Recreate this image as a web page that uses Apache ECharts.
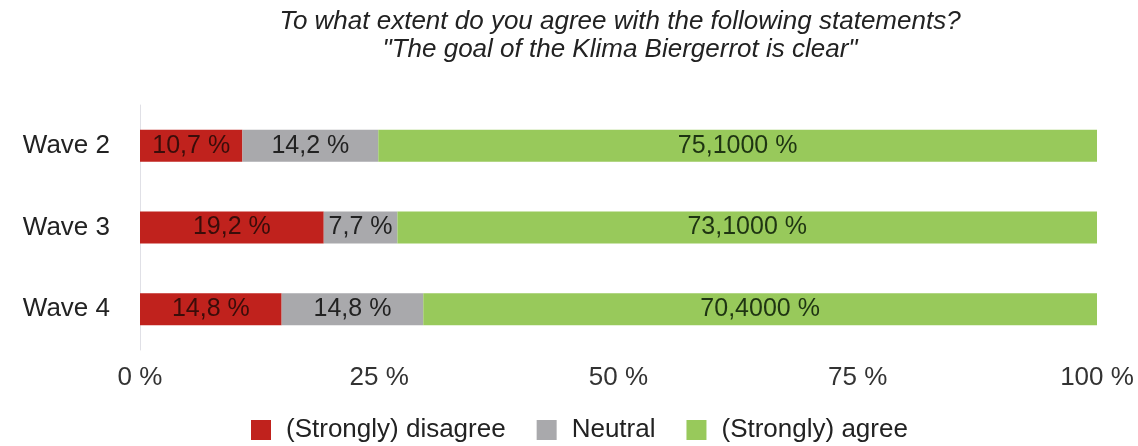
<!DOCTYPE html>
<html>
<head>
<meta charset="utf-8">
<script src="https://cdn.jsdelivr.net/npm/echarts@6/dist/echarts.min.js"></script>
<style>html,body{margin:0;padding:0;background:#fff;}#c{width:1138px;height:446px;}</style>
</head>
<body>
<div id="c"></div>
<script>
const categories = ["Wave 2", "Wave 3", "Wave 4"];
const seriesNames = ["(Strongly) disagree", "Neutral", "(Strongly) agree"];
const disagree = [10.7, 19.2, 14.8];
const neutral = [14.2, 7.7, 14.8];
const agree = [75.1, 73.1, 70.4];
const labelDecimals = [1, 1, 4];
const xTicks = [0, 25, 50, 75, 100];
const colors = ["#c0221d", "#a9a9ac", "#98c95b"];
const labelColors = ["#3a0d0a", "#222222", "#1e3412"];
const titleLines = ["To what extent do you agree with the following statements?", "\"The goal of the Klima Biergerrot is clear\""];

const font = "Liberation Sans, Arial, sans-serif";
function mk(name, data, i) {
  return {
    name: name, type: 'bar', stack: 'total', data: data, barWidth: 32,
    itemStyle: { color: colors[i] },
    label: {
      show: true, position: 'inside', color: labelColors[i], fontSize: 25, fontFamily: font,
      formatter: p => p.value.toFixed(labelDecimals[i]).replace('.', ',') + ' %'
    }
  };
}
const chart = echarts.init(document.getElementById('c'));
chart.setOption({
  animation: false,
  title: {
    text: titleLines.join('\n'), left: 615, top: 3, textAlign: 'center',
    textStyle: { fontStyle: 'italic', fontWeight: 'normal', fontSize: 26, color: '#222', fontFamily: font, lineHeight: 28 }
  },
  legend: {
    top: 412, left: 246, itemWidth: 20, itemHeight: 20, itemGap: 31,
    icon: 'rect',
    textStyle: { fontSize: 26, color: '#222', fontFamily: font, padding: [0, 0, 0, 10] }
  },
  grid: { left: 140, right: 41, top: 105, bottom: 96, containLabel: false },
  xAxis: {
    type: 'value', min: 0, max: 100, interval: 25,
    axisLine: { show: false }, axisTick: { show: false }, splitLine: { show: false },
    axisLabel: { formatter: v => xTicks.includes(v) ? v + ' %' : '', fontSize: 26, color: '#333', fontFamily: font, margin: 15 }
  },
  yAxis: {
    type: 'category', data: categories, inverse: true,
    axisLine: { show: true, lineStyle: { color: '#e0e0e6', width: 1 } },
    axisTick: { show: false },
    axisLabel: { fontSize: 26, color: '#222', fontFamily: font, margin: 30 }
  },
  series: [mk(seriesNames[0], disagree, 0), mk(seriesNames[1], neutral, 1), mk(seriesNames[2], agree, 2)]
});
</script>
</body>
</html>
